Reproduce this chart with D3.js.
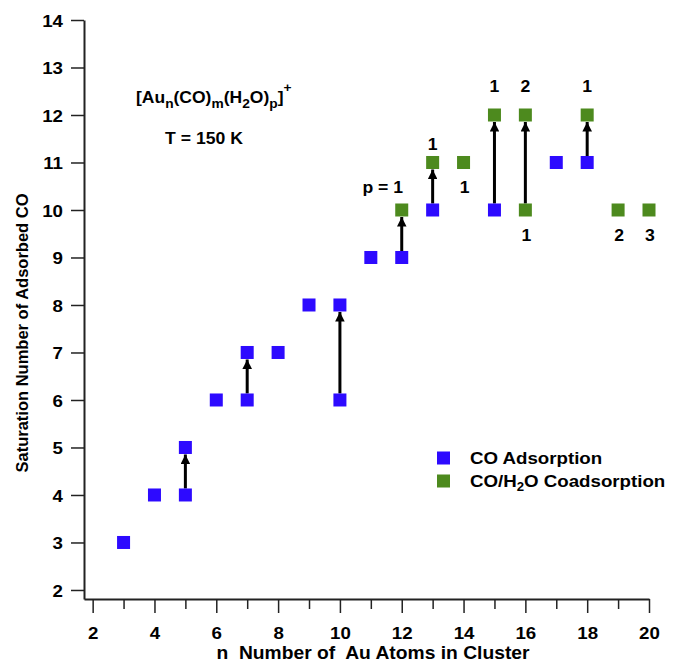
<!DOCTYPE html>
<html>
<head>
<meta charset="utf-8">
<script src="https://cdn.jsdelivr.net/npm/d3@7"></script>
<style>
  body { margin: 0; background: #fff; }
  svg { font-family: "Liberation Sans", Arial, sans-serif; font-weight: bold; }
</style>
</head>
<body>
<div id="chart"></div>
<script>
const xTicks = [2, 4, 6, 8, 10, 12, 14, 16, 18, 20];
const yTicks = [2, 3, 4, 5, 6, 7, 8, 9, 10, 11, 12, 13, 14];

// CO adsorption (blue)
const coN = [3, 4, 5, 5, 6, 7, 7, 8, 9, 10, 10, 11, 12, 13, 15, 17, 18];
const coM = [3, 4, 4, 5, 6, 6, 7, 7, 8, 6, 8, 9, 9, 10, 10, 11, 11];

// CO/H2O coadsorption (green)
const h2oN = [12, 13, 14, 15, 16, 16, 18, 19, 20];
const h2oM = [10, 11, 11, 12, 10, 12, 12, 10, 10];

// arrows: n, from m, to m
const arrowN = [5, 7, 10, 12, 13, 15, 16, 18];
const arrowFrom = [4, 6, 6, 9, 10, 10, 10, 11];
const arrowTo = [5, 7, 8, 10, 11, 12, 12, 12];

// number of water molecules p next to the green points
const labelN = [12, 13, 14, 15, 16, 16, 18, 19, 20];
const labelM = [10, 11, 11, 12, 12, 10, 12, 10, 10];
const labelText = ["p = 1", "1", "1", "1", "2", "1", "1", "2", "3"];
const labelPos = ["above", "above", "below", "above", "above", "below", "above", "below", "below"];

const W = 675, H = 665;
const blue = "#2d0aff", green = "#4d8a1e";

// the original figure is a bit wider than tall, so text is stretched sideways
function stretch(sel, k) {
  sel.each(function() {
    const len = this.getComputedTextLength();
    d3.select(this).attr("textLength", len * k).attr("lengthAdjust", "spacingAndGlyphs");
  });
}

const svg = d3.select("#chart").append("svg")
  .attr("width", W).attr("height", H);

const x = d3.scaleLinear().domain([1.72, 20.0]).range([84, 649]);
const y = d3.scaleLinear().domain([1.81, 14]).range([599, 20]);

// axes
const xAxis = svg.append("g")
  .attr("transform", `translate(0, ${y(1.81)})`)
  .call(d3.axisBottom(x).tickValues(d3.range(2, 21)).tickSize(0).tickFormat("").tickSizeOuter(0));
xAxis.select(".domain").attr("stroke", "#222").attr("stroke-width", 2);
xAxis.selectAll(".tick line")
  .attr("y2", d => d % 2 === 0 ? 14 : 10)
  .attr("stroke", "#222").attr("stroke-width", 1.5);
const xLab = xAxis.selectAll(".tick")
  .filter(d => xTicks.includes(d))
  .append("text")
  .attr("y", 40).attr("fill", "#000")
  .attr("text-anchor", "middle")
  .style("font-size", "17px").style("font-weight", "bold")
  .text(d => d);
stretch(xLab, 1.1);

const yAxis = svg.append("g")
  .attr("transform", `translate(${x(1.72)}, 0)`)
  .call(d3.axisLeft(y).tickValues(yTicks).tickSize(13).tickPadding(8).tickSizeOuter(0));
yAxis.select(".domain").attr("stroke", "#222").attr("stroke-width", 2);
yAxis.selectAll(".tick line").attr("stroke", "#222").attr("stroke-width", 1.5);
const yLab = yAxis.selectAll(".tick text")
  .attr("fill", "#000")
  .style("font-size", "17px").style("font-weight", "bold")
  .attr("dy", "0.36em");
stretch(yLab, 1.1);

// axis titles
svg.append("text")
  .attr("x", 373).attr("y", 659)
  .attr("text-anchor", "middle")
  .attr("xml:space", "preserve")
  .style("white-space", "pre")
  .style("font-size", "17.5px")
  .text("n  Number of  Au Atoms in Cluster")
  .call(stretch, 1.1);

svg.append("text")
  .attr("transform", "translate(28, 333) rotate(-90)")
  .attr("text-anchor", "middle")
  .style("font-size", "16.5px")
  .text("Saturation Number of Adsorbed CO");

// arrowhead
svg.append("defs").append("marker")
  .attr("id", "head")
  .attr("viewBox", "0 0 10 10")
  .attr("refX", 10).attr("refY", 5)
  .attr("markerWidth", 4.5).attr("markerHeight", 3.2)
  .attr("markerUnits", "strokeWidth")
  .attr("orient", "auto")
  .append("path")
  .attr("d", "M0,0 L10,5 L0,10 Z")
  .attr("fill", "#000");

const half = 6.5;
svg.append("g").selectAll("line")
  .data(arrowN.map((n, i) => ({ n, a: arrowFrom[i], b: arrowTo[i] })))
  .enter().append("line")
  .attr("x1", d => x(d.n)).attr("x2", d => x(d.n))
  .attr("y1", d => y(d.a) - half)
  .attr("y2", d => y(d.b) + half + 0.5)
  .attr("stroke", "#000").attr("stroke-width", 3)
  .attr("marker-end", "url(#head)");

// squares
const coData = coN.map((n, i) => ({ n, m: coM[i] }));
const h2oData = h2oN.map((n, i) => ({ n, m: h2oM[i] }));

svg.append("g").selectAll("rect")
  .data(coData).enter().append("rect")
  .attr("x", d => x(d.n) - half).attr("y", d => y(d.m) - half)
  .attr("width", half * 2).attr("height", half * 2)
  .attr("fill", blue);

svg.append("g").selectAll("rect")
  .data(h2oData).enter().append("rect")
  .attr("x", d => x(d.n) - half).attr("y", d => y(d.m) - half)
  .attr("width", half * 2).attr("height", half * 2)
  .attr("fill", green);

// p labels; top row sits a little higher than the others
const pLab = svg.append("g").selectAll("text")
  .data(labelN.map((n, i) => ({ n, m: labelM[i], t: labelText[i], pos: labelPos[i] })))
  .enter().append("text")
  .attr("x", d => d.t === "p = 1" ? x(d.n) - 19 : x(d.n) + (d.pos === "below" ? 1 : 0))
  .attr("y", d => {
    if (d.pos === "below") return y(d.m) + 31;
    if (d.t === "p = 1") return y(d.m) - 17;
    return d.m === 12 ? y(d.m) - 23 : y(d.m) - 12;
  })
  .attr("text-anchor", "middle")
  .style("font-size", "16px")
  .text(d => d.t);
stretch(pLab, 1.1);

// formula
const f = svg.append("g")
  .attr("transform", "translate(136, 103) scale(1.06, 1)")
  .append("text")
  .style("font-size", "16.5px");
f.append("tspan").text("[Au");
f.append("tspan").attr("dy", 5).style("font-size", "13px").text("n");
f.append("tspan").attr("dy", -5).text("(CO)");
f.append("tspan").attr("dy", 5).style("font-size", "13px").text("m");
f.append("tspan").attr("dy", -5).text("(H");
f.append("tspan").attr("dy", 5).style("font-size", "13px").text("2");
f.append("tspan").attr("dy", -5).text("O)");
f.append("tspan").attr("dy", 5).style("font-size", "13px").text("p");
f.append("tspan").attr("dy", -5).text("]");
f.append("tspan").attr("dy", -11).style("font-size", "13px").text("+");

svg.append("text")
  .attr("x", 204).attr("y", 144)
  .attr("text-anchor", "middle")
  .style("font-size", "16px")
  .text("T = 150 K")
  .call(stretch, 1.1);

// legend
const legendLabels = ["CO Adsorption", "CO/H2O Coadsorption"];
const legendColors = [blue, green];
const leg = svg.append("g").attr("transform", "translate(437, 458)");
legendLabels.forEach((l, i) => {
  const g = leg.append("g").attr("transform", `translate(0, ${i * 23})`);
  g.append("rect").attr("x", 0).attr("y", -6.5).attr("width", 13).attr("height", 13)
    .attr("fill", legendColors[i]);
  const t = g.append("g").attr("transform", "translate(33, 6) scale(1.1, 1)")
    .append("text").style("font-size", "17px");
  if (i === 0) {
    t.text(l);
  } else {
    t.append("tspan").text("CO/H");
    t.append("tspan").attr("dy", 4).style("font-size", "12px").text("2");
    t.append("tspan").attr("dy", -4).text("O Coadsorption");
  }
});
</script>
</body>
</html>
